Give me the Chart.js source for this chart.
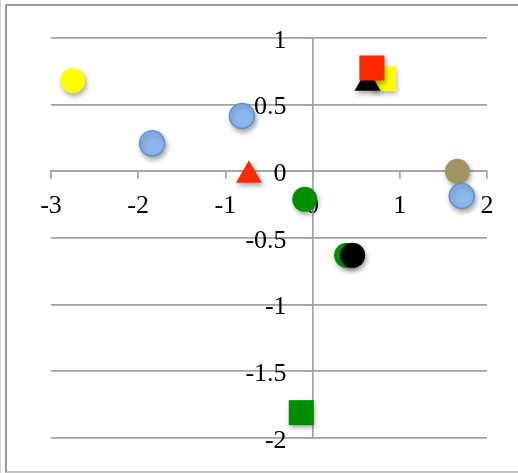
<!DOCTYPE html>
<html>
<head>
<meta charset="utf-8">
<script src="https://cdn.jsdelivr.net/npm/chart.js@4.4.1/dist/chart.umd.min.js"></script>
<style>
  html, body { margin: 0; padding: 0; background: #fff; }
  .wrap { position: relative; width: 518px; height: 473px; overflow: hidden; }
  .edge { position: absolute; left: 0; top: 0; width: 1px; height: 473px; background: #d4d4d4; }
  .frame { position: absolute; left: 5px; top: 4px; width: 530px; height: 469px; border: 2px solid #9a9a9a; box-sizing: border-box; border-right: none; border-bottom-color: #c4c4c4; }
  canvas { position: absolute; left: 0; top: 0; }
</style>
</head>
<body>
<div class="wrap">
  <div class="edge"></div>
  <div class="frame"></div>
  <canvas id="chart" width="518" height="473"></canvas>
</div>
<script>
// axis ranges and ticks
const xMin = -3, xMax = 2, xStep = 1;
const yMin = -2, yMax = 1, yStep = 0.5;

// each colour group: x values, y values and marker shape per point
const blueX = [-1.84, -0.81, 1.71];
const blueY = [0.21, 0.415, -0.185];
const blueShape = ['circle', 'circle', 'circle'];

const yellowX = [-2.75, 0.81];
const yellowY = [0.68, 0.695];
const yellowShape = ['circle', 'rect'];

const redX = [0.68, -0.73];
const redY = [0.775, -0.03];
const redShape = ['rect', 'triangle'];

const blackX = [0.63, 0.46];
const blackY = [0.66, -0.63];
const blackShape = ['triangle', 'circle'];

const greenX = [-0.09, 0.39, -0.13];
const greenY = [-0.21, -0.63, -1.81];
const greenShape = ['circle', 'circle', 'rect'];

const tanX = [1.66];
const tanY = [0.0];
const tanShape = ['circle'];

const FONT = { family: '"Liberation Serif", "DejaVu Serif", serif', size: 26 };
const GRID = '#a3a3a3';

function sizeFor(shape) {
  if (shape === 'rect') return 17.7;
  if (shape === 'triangle') return 15;
  return 12.5;
}

function series(xs, ys, shapes, fill, border) {
  return {
    data: xs.map((x, i) => ({ x, y: ys[i] })),
    pointStyle: shapes,
    pointRadius: shapes.map(sizeFor),
    pointHoverRadius: shapes.map(sizeFor),
    backgroundColor: fill,
    borderColor: border || fill,
    borderWidth: border ? 1.5 : 0,
    showLine: false
  };
}

// soft drop shadow under the markers
const markerShadow = {
  id: 'markerShadow',
  beforeDatasetsDraw(chart) {
    const ctx = chart.ctx;
    ctx.save();
    ctx.shadowColor = 'rgba(0,0,0,0.35)';
    ctx.shadowBlur = 5;
    ctx.shadowOffsetX = 1.5;
    ctx.shadowOffsetY = 3;
  },
  afterDatasetsDraw(chart) {
    chart.ctx.restore();
  }
};

// first dataset ends up on top
new Chart(document.getElementById('chart'), {
  type: 'scatter',
  data: {
    datasets: [
      series(redX, redY, redShape, '#ff2a00'),
      series(blackX, blackY, blackShape, '#000000'),
      series(blueX, blueY, blueShape, '#8db7eb', '#5f91d4'),
      series(greenX, greenY, greenShape, '#008f00'),
      series(yellowX, yellowY, yellowShape, '#ffff00'),
      series(tanX, tanY, tanShape, '#a39466')
    ]
  },
  options: {
    responsive: false,
    animation: false,
    layout: { padding: { left: 51, right: 31, top: 38, bottom: 35 } },
    plugins: { legend: { display: false }, tooltip: { enabled: false } },
    scales: {
      x: {
        type: 'linear',
        min: xMin, max: xMax,
        position: { y: 0 },
        ticks: { stepSize: xStep, color: '#000', font: FONT, padding: 12, callback: v => String(v) },
        grid: { drawOnChartArea: false, drawTicks: true, tickLength: 7, color: GRID, lineWidth: 1.7 },
        border: { color: GRID, width: 1.7 }
      },
      y: {
        type: 'linear',
        min: yMin, max: yMax,
        position: { x: 0 },
        // labels sit right-aligned on the axis, so pad them off it with spaces
        ticks: { stepSize: yStep, color: '#000', font: FONT, labelOffset: 3, callback: v => String(v) + '    ' },
        grid: { color: GRID, lineWidth: 1.7, tickLength: 7 },
        border: { color: GRID, width: 1.7 }
      }
    }
  },
  plugins: [markerShadow]
});
</script>
</body>
</html>
